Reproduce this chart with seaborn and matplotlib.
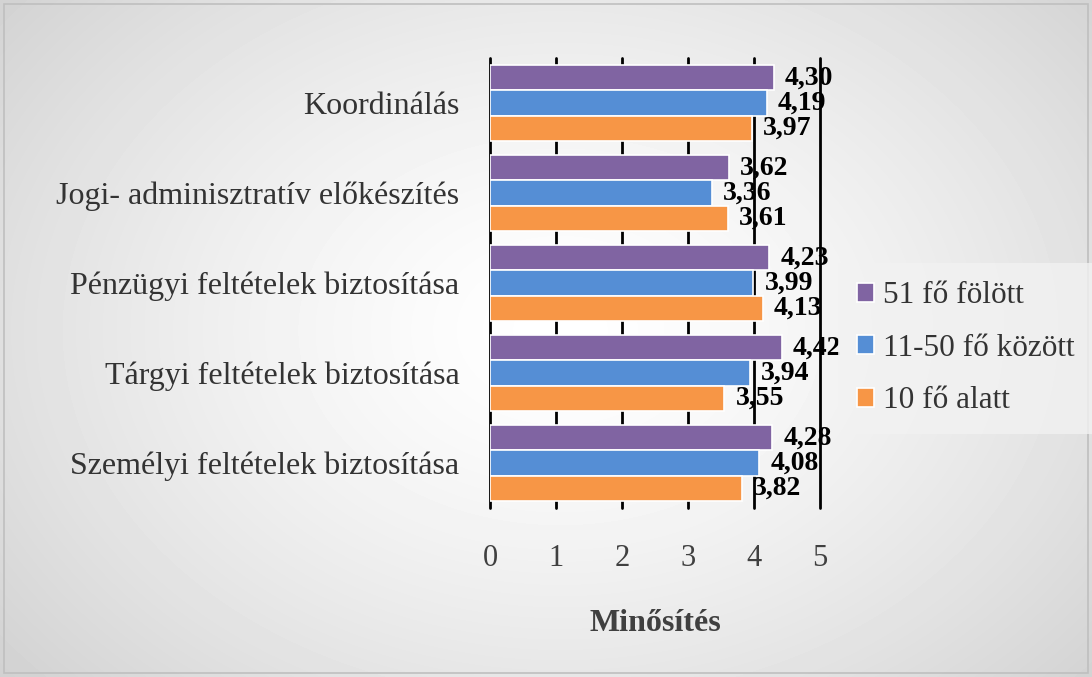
import numpy as np
import pandas as pd
import matplotlib
matplotlib.use("Agg")
import matplotlib.pyplot as plt
from matplotlib.patches import Rectangle
import seaborn as sns

categories = [
    "Koordinálás",
    "Jogi- adminisztratív előkészítés",
    "Pénzügyi feltételek biztosítása",
    "Tárgyi feltételek biztosítása",
    "Személyi feltételek biztosítása",
]
groups = ["51 fő fölött", "11-50 fő között", "10 fő alatt"]
over_51 = [4.30, 3.62, 4.23, 4.42, 4.28]
between_11_50 = [4.19, 3.36, 3.99, 3.94, 4.08]
under_10 = [3.97, 3.61, 4.13, 3.55, 3.82]
x_ticks = [0, 1, 2, 3, 4, 5]
x_label = "Minősítés"

colors = ["#8064A2", "#558ED5", "#F79646"]

df = pd.DataFrame({
    "Terület": categories * 3,
    "Csoport": [g for g in groups for _ in categories],
    "Érték": over_51 + between_11_50 + under_10,
})

sns.set_theme(style="white")
serif = ["Liberation Serif", "DejaVu Serif"]
plt.rcParams["font.family"] = serif

fig = plt.figure(figsize=(10.92, 6.77), dpi=100)

# soft radial background
bg = fig.add_axes([0, 0, 1, 1], zorder=-10)
yy, xx = np.mgrid[0:677, 0:1092]
r = np.sqrt(((xx - 560) / 700.0) ** 2 + ((yy - 330) / 520.0) ** 2)
shade = np.clip(1.0 - 0.17 * r ** 1.4, 0.80, 1.0)
bg.imshow(shade, cmap="gray", vmin=0, vmax=1, aspect="auto",
          extent=[0, 1, 0, 1], origin="upper")
bg.add_patch(Rectangle((0.004, 0.006), 0.992, 0.988, fill=False,
                       edgecolor="#bfbfbf", lw=1.2, transform=bg.transAxes))
bg.set_axis_off()

ax = fig.add_axes([490 / 1092, 1 - 508 / 677, 330 / 1092, 450 / 677])
ax.patch.set_alpha(0)

sns.barplot(data=df, y="Terület", x="Érték", hue="Csoport", order=categories,
            hue_order=groups, palette=colors, orient="h", width=0.84,
            saturation=1, edgecolor="white", linewidth=1.2, ax=ax, zorder=3)

for xv in x_ticks:
    ax.axvline(xv, color="black", lw=2, zorder=1, clip_on=False)

ax.set_xlim(0, 5)
ax.set_xticks(x_ticks)
ax.set_xticklabels([str(v) for v in x_ticks], fontsize=22, color="#404040")
ax.tick_params(axis="x", length=0, pad=26)
ax.tick_params(axis="y", length=0, pad=22)
for lbl in ax.get_yticklabels():
    lbl.set_fontsize(23)
    lbl.set_color("#333333")
ax.set_ylabel("")
ax.set_xlabel(x_label, fontsize=23, fontweight="bold", color="#404040", labelpad=26)
for s in ax.spines.values():
    s.set_visible(False)

for cont in ax.containers:
    ax.bar_label(cont, labels=[f"{v:.2f}".replace(".", ",") for v in cont.datavalues],
                 padding=8, fontsize=20, fontweight="bold", color="black", zorder=5)

leg = ax.legend(loc="center left", bbox_to_anchor=(1.055, 0.355), frameon=True,
                fontsize=22.5, handlelength=0.55, handleheight=0.55, handletextpad=0.3,
                labelspacing=0.75, borderpad=0.6, borderaxespad=0, fancybox=False)
leg.get_frame().set_facecolor("#f2f2f2")
leg.get_frame().set_edgecolor("none")
for t in leg.get_texts():
    t.set_color("#333333")

fig.savefig("out.png", dpi=100)
